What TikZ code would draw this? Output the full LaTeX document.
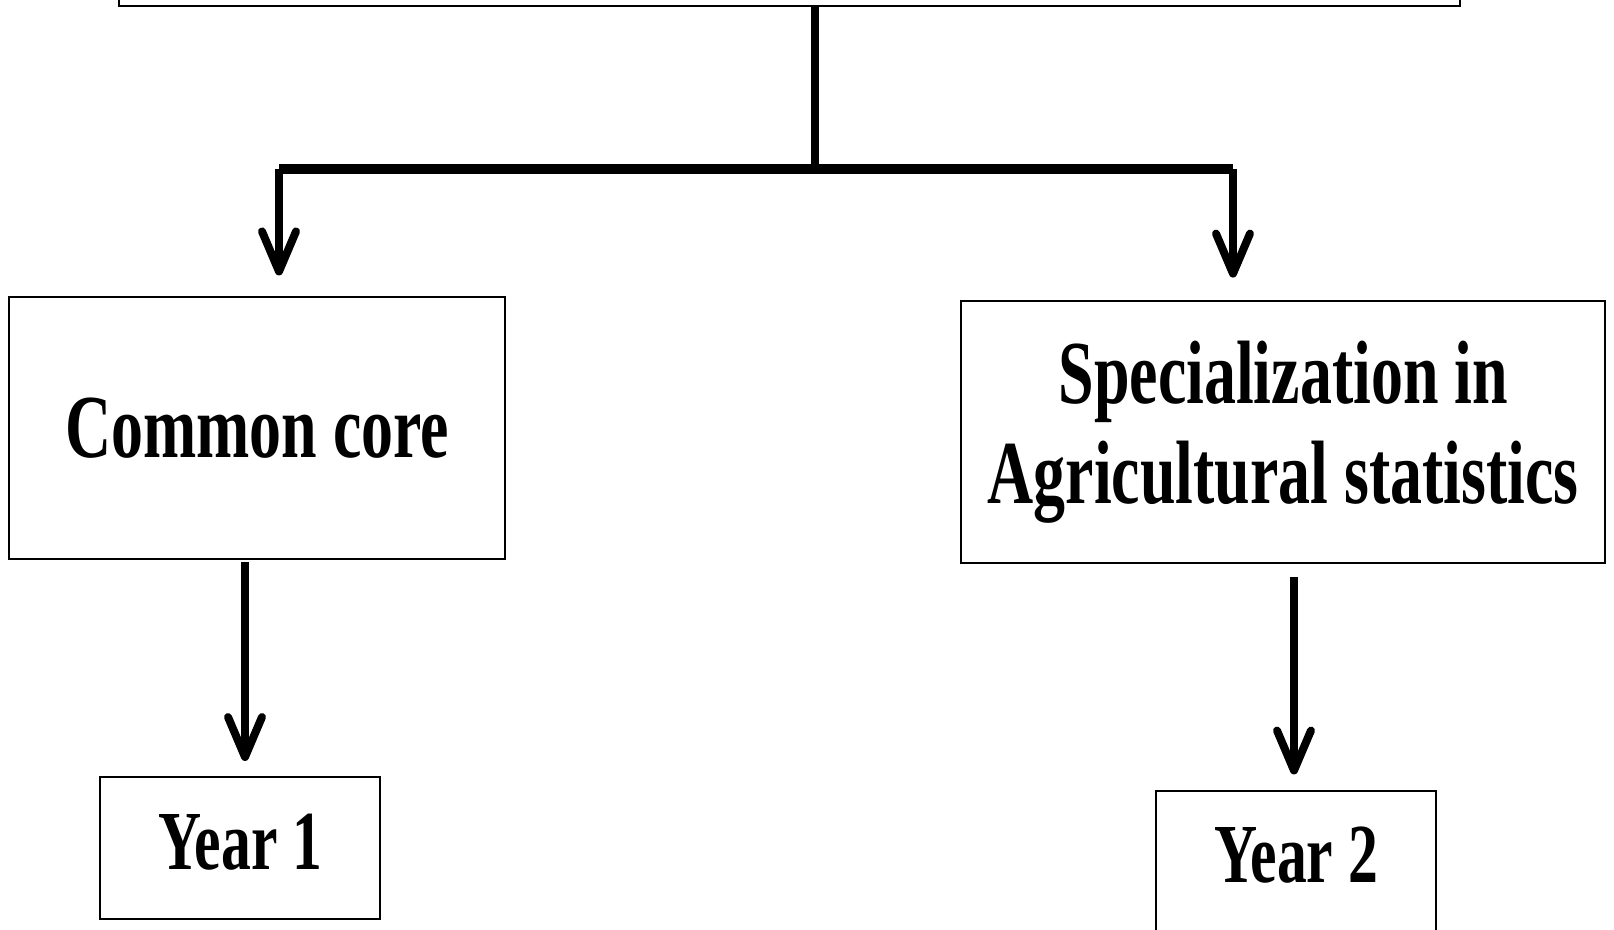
\documentclass[tikz,border=0pt]{standalone}
\usepackage{fontspec}
\setmainfont{Liberation Serif}[FakeStretch=0.71]
\usetikzlibrary{arrows.meta}
\begin{document}
\begin{tikzpicture}[x=0.5pt,y=-0.5pt,
  box/.style={draw=black,line width=1pt,fill=white,inner sep=0pt,align=center,
    font=\fontsize{45}{50}\selectfont\bfseries},
  yearbox/.style={box,font=\fontsize{42}{48}\selectfont\bfseries,minimum width=140pt,minimum height=71pt},
  conn/.style={line width=4pt,line cap=butt},
  arr/.style={line width=4pt,-{Straight Barb[length=20pt,width=17pt,line cap=round,line join=round]}}]
\useasboundingbox (0,0) rectangle (1614,930);
\fill[white] (0,0) rectangle (1614,930);
% boxes
\node[box,line width=1.2pt,minimum width=670.5pt,minimum height=40pt] (top) at (789.5,-34) {};
\node[box,minimum width=248pt,minimum height=130.75pt] (cc) at (257.4,428.2) {Common core};
\node[box,minimum width=321.8pt,minimum height=131.2pt] (spec) at (1283.2,431.8) {Specialization in\\Agricultural statistics};
\node[yearbox] (y1) at (240.2,848) {\raisebox{-10.9pt}[0pt][0pt]{Year 1}};
\node[yearbox] (y2) at (1296,862) {\raisebox{-10.5pt}[0pt][0pt]{Year 2}};
% connectors
\coordinate (hub) at (815,169.5);
\coordinate (lb) at (279,169.5);
\coordinate (rb) at (1233,169.5);
\draw[conn] (hub |- top.south) -- (hub);
\draw[conn,line width=5pt] (lb) -- (rb);
\draw[arr,shorten >=10.5pt] (lb) -- (lb |- cc.north);
\draw[arr,shorten >=11pt] (rb) -- (rb |- spec.north);
\coordinate (c1) at (245,562);
\draw[arr,shorten >=7.5pt] (c1) -- (c1 |- y1.north);
\coordinate (c2) at (1294,577);
\draw[arr,shorten >=7.75pt] (c2) -- (c2 |- y2.north);
\end{tikzpicture}
\end{document}
